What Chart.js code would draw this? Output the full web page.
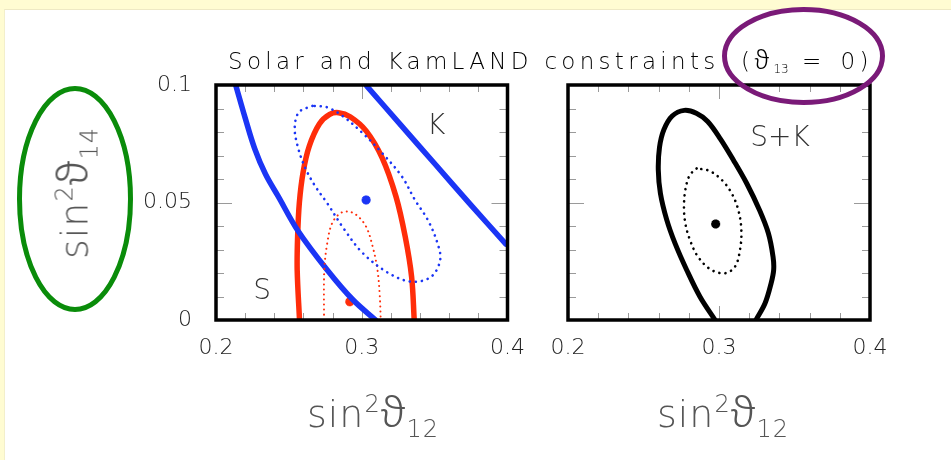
<!DOCTYPE html>
<html>
<head>
<meta charset="utf-8">
<script src="https://cdn.jsdelivr.net/npm/chart.js@4/dist/chart.umd.min.js"></script>
<style>
  html, body { margin: 0; padding: 0; }
  body { width: 951px; height: 460px; overflow: hidden; background: #FFFCD2; position: relative;
         font-family: "DejaVu Sans", sans-serif; color: #333; }
  #panel { position: absolute; left: 4px; top: 9px; right: 0; bottom: 0; background: #fff;
           border-top: 1px solid #EEE9C4; border-left: 1px solid #F3EFCB; }
  .box { position: absolute; }
  #title { position: absolute; left: 228px; top: 42px; font-size: 23px; letter-spacing: 4.3px;
           font-weight: 300; white-space: nowrap; color: #000; }
  #title sub { font-size: 12px; vertical-align: -4px; letter-spacing: 0; }
  #title .paren { margin-left: 10px; }
  #title .eq { letter-spacing: 6px; }
  .th { font-family: "Noto Sans", "Open Sans", sans-serif; font-style: normal; font-weight: 300; }
  #title .th { font-size: 25px; }
  .axt { position: absolute; font-size: 38px; font-weight: 300; color: #555; white-space: nowrap; letter-spacing: 1px; }
  .axt .th { font-size: 42px; }
  .axt sup { font-size: 24px; vertical-align: 15px; }
  .axt sub { font-size: 24px; vertical-align: -10px; }
  #ylab { left: 73px; top: 193px; transform: translate(-50%, -50%) rotate(-90deg); }
  #xlab1 { left: 373px; top: 412px; transform: translate(-50%, -50%); }
  #xlab2 { left: 723px; top: 412px; transform: translate(-50%, -50%); }
  svg { position: absolute; left: 0; top: 0; }
</style>
</head>
<body>
<div id="panel"></div>
<div class="box" style="left:0;top:0;width:540px;height:400px;"><canvas id="c1" width="540" height="400"></canvas></div>
<div class="box" style="left:530px;top:0;width:421px;height:400px;"><canvas id="c2" width="421" height="400"></canvas></div>
<div id="title">Solar and KamLAND constraints<span class="paren"> (</span><span class="th">ϑ</span><sub>13</sub><span class="eq"> = </span>0)</div>
<div class="axt" id="ylab">sin<sup>2</sup><span class="th">ϑ</span><sub>14</sub></div>
<div class="axt" id="xlab1">sin<sup>2</sup><span class="th">ϑ</span><sub>12</sub></div>
<div class="axt" id="xlab2">sin<sup>2</sup><span class="th">ϑ</span><sub>12</sub></div>
<svg width="951" height="460">
  <ellipse cx="803.5" cy="56" rx="79" ry="46.5" fill="none" stroke="#7A1A78" stroke-width="5"/>
  <ellipse cx="75" cy="199" rx="55.5" ry="110.5" fill="none" stroke="#0A8C0A" stroke-width="5"/>
</svg>
<script>
// Axis ranges and tick labels
const xRange = [0.2, 0.4];
const yRange = [0, 0.1];
const xTickValues = [0.2, 0.3, 0.4];
const xTickLabels = ['0.2', '0.3', '0.4'];
const yTickValues = [0, 0.05, 0.1];
const yTickLabels = ['0', '0.05', '0.1'];

// Solar constraint boundary (blue, solid) – "S"
const solarX = [0.2135, 0.2200, 0.2265, 0.2340, 0.2428, 0.2562, 0.2763, 0.2941, 0.3095];
const solarY = [0.1000, 0.0860, 0.0730, 0.0620, 0.0525, 0.0380, 0.0213, 0.0085, 0.0000];
// KamLAND constraint boundary (blue, solid) – "K"
const kamX = [0.3035, 0.3270, 0.3498, 0.3745, 0.3989];
const kamY = [0.0995, 0.0828, 0.0667, 0.0492, 0.0323];
// Solar-only allowed region, dotted (blue)
const solarInX = [0.2662, 0.2570, 0.2540, 0.2560, 0.2610, 0.2680, 0.2763, 0.2875, 0.3008, 0.3186, 0.3342,
                  0.3476, 0.3538, 0.3520, 0.3453, 0.3365, 0.3276, 0.3142, 0.3008, 0.2875, 0.2763, 0.2662];
const solarInY = [0.0911, 0.0885, 0.0820, 0.0740, 0.0650, 0.0570, 0.0497, 0.0390, 0.0284, 0.0199, 0.0163,
                  0.0184, 0.0255, 0.0326, 0.0426, 0.0511, 0.0610, 0.0709, 0.0794, 0.0865, 0.0905, 0.0911];
// KamLAND-only allowed region, solid (red)
const kamOutX = [0.2573, 0.2557, 0.2560, 0.2572, 0.2598, 0.2640, 0.2710, 0.2780, 0.2841, 0.2920, 0.3030,
                 0.3140, 0.3235, 0.3298, 0.3342, 0.3360];
const kamOutY = [0.0000, 0.0213, 0.0355, 0.0500, 0.0630, 0.0740, 0.0835, 0.0875, 0.0882, 0.0865, 0.0805,
                 0.0690, 0.0525, 0.0355, 0.0184, 0.0000];
// KamLAND-only allowed region, dotted (red)
const kamInX = [0.2741, 0.2743, 0.2763, 0.2796, 0.2852, 0.2908, 0.2963, 0.3030, 0.3075, 0.3108, 0.3124, 0.3130];
const kamInY = [0.0000, 0.0213, 0.0326, 0.0411, 0.0454, 0.0461, 0.0447, 0.0397, 0.0312, 0.0213, 0.0099, 0.0000];
// Combined S+K allowed regions (black)
const combOutX = [0.2974, 0.2874, 0.2786, 0.2709, 0.2654, 0.2612, 0.2598, 0.2606, 0.2635, 0.2690, 0.2770,
                  0.2850, 0.2925, 0.3010, 0.3095, 0.3183, 0.3268, 0.3327, 0.3358, 0.3362, 0.3345, 0.3305, 0.3245];
const combOutY = [0.0000, 0.0099, 0.0213, 0.0326, 0.0426, 0.0539, 0.0638, 0.0735, 0.0810, 0.0868, 0.0892,
                  0.0880, 0.0845, 0.0770, 0.0681, 0.0582, 0.0468, 0.0369, 0.0269, 0.0213, 0.0156, 0.0071, 0.0000];
const combInX = [0.2852, 0.2805, 0.2777, 0.2768, 0.2777, 0.2808, 0.2860, 0.2945, 0.3040, 0.3106, 0.3139,
                 0.3148, 0.3128, 0.3084, 0.3020, 0.2935, 0.2852];
const combInY = [0.0645, 0.0615, 0.0553, 0.0482, 0.0411, 0.0340, 0.0270, 0.0215, 0.0199, 0.0227, 0.0298,
                 0.0383, 0.0468, 0.0539, 0.0595, 0.0635, 0.0645];
// Best-fit points
const bestSolar = [0.3030, 0.0511];
const bestKam = [0.2918, 0.0078];
const bestComb = [0.2978, 0.0409];
// Curve labels
const leftLabels = [{ text: 'K', x: 0.3510, y: 0.0823 }, { text: 'S', x: 0.2316, y: 0.0120 }];
const rightLabels = [{ text: 'S+K', x: 0.3404, y: 0.0773 }];

const BLUE = '#1B35F5', RED = '#FF2D0A', BLACK = '#000000';
const zip = (xs, ys) => xs.map((x, i) => ({ x, y: ys[i] }));

function curve(xs, ys, color, width, dotted) {
  return {
    data: zip(xs, ys), showLine: true, borderColor: color, borderWidth: width,
    pointRadius: 0, tension: 0.35, fill: false,
    borderDash: dotted ? [0.1, dotted] : [], borderCapStyle: 'round', borderJoinStyle: 'round'
  };
}
function star(p, color) {
  return { data: [{ x: p[0], y: p[1] }], pointStyle: 'star', pointRadius: 4.5,
           borderColor: color, backgroundColor: color, borderWidth: 3, showLine: false };
}

const framePlugin = {
  id: 'frame',
  beforeDatasetsDraw(chart) {
    const { ctx, chartArea: a, scales: { x, y } } = chart;
    ctx.save();
    ctx.strokeStyle = '#9a9a9a';
    ctx.lineWidth = 1;
    ctx.beginPath();
    for (let i = 1; i < 10; i++) {
      const v = xRange[0] + i * 0.02;
      const px = Math.round(x.getPixelForValue(v)) + 0.5;
      const len = i === 5 ? 14 : 7;
      ctx.moveTo(px, a.top); ctx.lineTo(px, a.top + len);
      ctx.moveTo(px, a.bottom); ctx.lineTo(px, a.bottom - len);
    }
    for (let i = 1; i < 10; i++) {
      const v = i * 0.01;
      const py = Math.round(y.getPixelForValue(v)) + 0.5;
      const len = i === 5 ? 16 : 8;
      ctx.moveTo(a.left, py); ctx.lineTo(a.left + len, py);
      ctx.moveTo(a.right, py); ctx.lineTo(a.right - len, py);
    }
    ctx.stroke();
    ctx.restore();
  },
  afterDatasetsDraw(chart, args, opts) {
    const { ctx, chartArea: a, scales: { x, y } } = chart;
    ctx.save();
    ctx.strokeStyle = '#000';
    ctx.lineWidth = 3.5;
    ctx.strokeRect(a.left, a.top, a.right - a.left, a.bottom - a.top);
    ctx.fillStyle = '#333';
    ctx.font = '300 28px "DejaVu Sans"';
    ctx.textAlign = 'center';
    ctx.textBaseline = 'middle';
    (opts.labels || []).forEach(l => {
      ctx.fillText(l.text, x.getPixelForValue(l.x), y.getPixelForValue(l.y));
    });
    ctx.restore();
  }
};

function makeScales(showY, xHeight, yWidth) {
  const tickFont = { family: 'DejaVu Sans', size: 22, weight: 300 };
  return {
    x: {
      type: 'linear', min: xRange[0], max: xRange[1],
      grid: { display: false, drawTicks: false }, border: { display: false },
      afterBuildTicks: s => { s.ticks = xTickValues.map(v => ({ value: v })); },
      ticks: { color: '#222', font: tickFont, padding: 15, maxRotation: 0,
               callback: (v) => xTickLabels[xTickValues.findIndex(t => Math.abs(t - v) < 1e-9)] },
      afterFit: s => { s.height = xHeight; }
    },
    y: {
      type: 'linear', min: yRange[0], max: yRange[1], display: showY,
      grid: { display: false, drawTicks: false }, border: { display: false },
      afterBuildTicks: s => { s.ticks = yTickValues.map(v => ({ value: v })); },
      ticks: { color: '#222', font: tickFont, padding: 24,
               callback: (v) => yTickLabels[yTickValues.findIndex(t => Math.abs(t - v) < 1e-9)] },
      afterFit: s => { s.width = yWidth; }
    }
  };
}

const common = {
  responsive: false, animation: false, events: [],
  plugins: { legend: { display: false }, tooltip: { enabled: false } }
};

new Chart(document.getElementById('c1'), {
  type: 'scatter',
  data: { datasets: [
    curve(solarInX, solarInY, BLUE, 2.6, 6),
    curve(kamInX, kamInY, RED, 2, 5),
    curve(solarX, solarY, BLUE, 5.5),
    curve(kamX, kamY, BLUE, 5.5),
    curve(kamOutX, kamOutY, RED, 5.5),
    star(bestSolar, BLUE),
    star(bestKam, RED)
  ] },
  options: Object.assign({}, common, {
    layout: { padding: { left: 0, top: 85, right: 25, bottom: 40 } },
    scales: makeScales(true, 40, 216),
    plugins: Object.assign({}, common.plugins, { frame: { labels: leftLabels } })
  }),
  plugins: [framePlugin]
});

new Chart(document.getElementById('c2'), {
  type: 'scatter',
  data: { datasets: [
    curve(combInX, combInY, BLACK, 2.6, 6),
    curve(combOutX, combOutY, BLACK, 5),
    star(bestComb, BLACK)
  ] },
  options: Object.assign({}, common, {
    layout: { padding: { left: 38, top: 85, right: 81, bottom: 40 } },
    scales: makeScales(false, 40, 0),
    plugins: Object.assign({}, common.plugins, { frame: { labels: rightLabels } })
  }),
  plugins: [framePlugin]
});
</script>
</body>
</html>
